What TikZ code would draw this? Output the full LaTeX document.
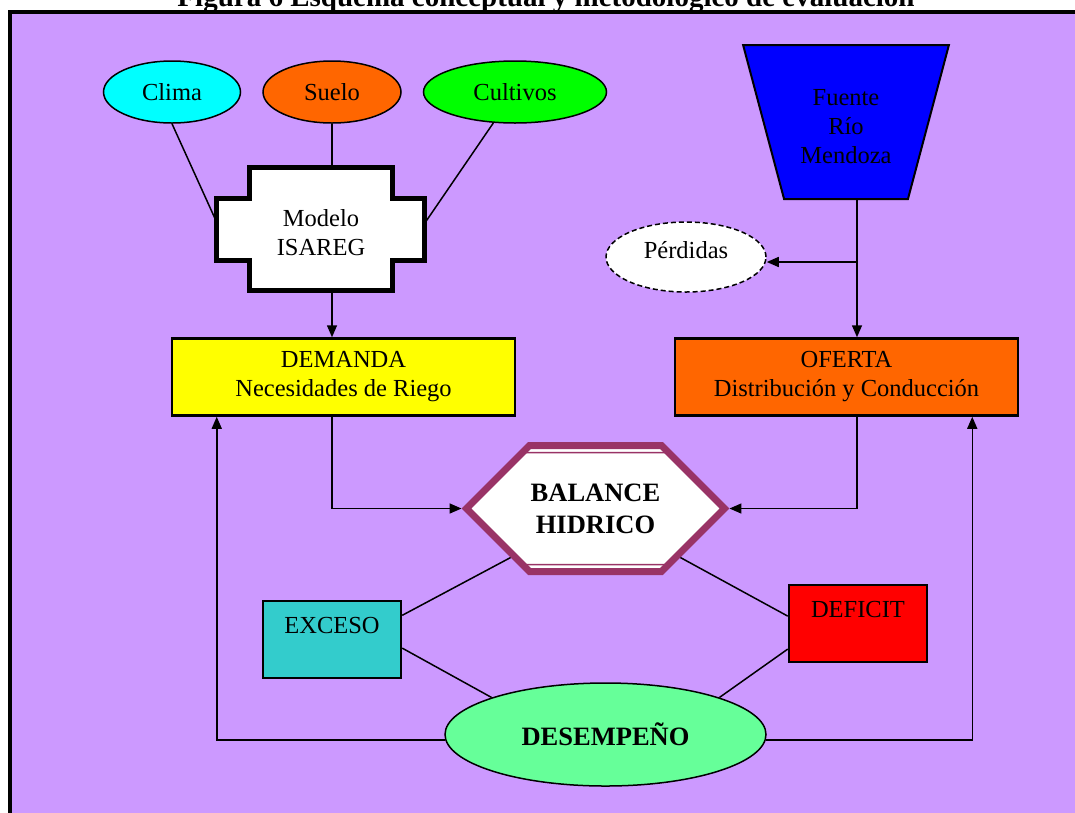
\documentclass[tikz,border=0pt]{standalone}
\usepackage{fontspec}
\setmainfont{Liberation Serif}
\usetikzlibrary{arrows.meta}
\usetikzlibrary{backgrounds}
\usetikzlibrary{shapes}
\definecolor{fondo}{HTML}{CC99FF}
\definecolor{cian}{HTML}{00FFFF}
\definecolor{naranja}{HTML}{FF6600}
\definecolor{verde}{HTML}{00FF00}
\definecolor{amarillo}{HTML}{FFFF00}
\definecolor{azul}{HTML}{0000FF}
\definecolor{ciruela}{HTML}{993366}
\definecolor{turquesa}{HTML}{33CCCC}
\definecolor{rojo}{HTML}{FF0000}
\definecolor{verdeclaro}{HTML}{66FF99}
\tikzset{
  > = {Triangle[length = 12pt, width = 10pt]},
  txt/.style = {font = \fontsize{24.5}{29}\selectfont,
                align = center,
                inner sep = 0pt},
  bold/.style = {font = \fontsize{26.5}{32}\selectfont\bfseries,
                 align = center},
  oval/.style = {ellipse,
                 draw,
                 txt,
                 line width = 1.5pt},
  box/.style = {rectangle,
                draw,
                txt,
                line width = 2.5pt,
                minimum width = 138,
                minimum height = 77},
  trap/.style = {trapezium,
                 draw,
                 line width = 2pt,
                 trapezium angle = 71.7,
                 trapezium stretches = true,
                 shape border rotate = 180,
                 minimum width = 206,
                 minimum height = 154},
  hexa/.style = {signal,
                 signal to = west and east,
                 signal pointer angle = 90,
                 draw = ciruela,
                 inner sep = 0pt},
  conn/.style = {line width = 1.5pt}
}
\begin{document}
\begin{tikzpicture}[x = 1pt, y = -1pt]
\useasboundingbox (0,0) rectangle (1075,812);

\begin{scope}[on background layer]
  \fill[fondo] (10,12) rectangle (1080,820);
\end{scope}
\draw[line width = 4pt] (10,820) -- (10,12) -- (1080,12);

\node[bold, font = \fontsize{29}{34}\selectfont\bfseries](title) at (546,6.5)[anchor = base]{Figura 6 Esquema conceptual y metodológico de evaluación};

% demanda
\node[oval, fill = cian, minimum width = 137, minimum height = 62](clima) at (172,92){Clima};
\node[oval, fill = naranja, minimum width = 138, minimum height = 62](suelo) at (332,92){Suelo};
\node[oval, fill = verde, minimum width = 183, minimum height = 62](cultivos) at (515,92){Cultivos};

\node[txt, minimum width = 208, minimum height = 123, label = {[txt, yshift = -3pt]center:Modelo\\ISAREG}](isareg) at (321,229.5){};
\begin{scope}[on background layer]
  \draw[line width = 5pt, fill = white]
    ([xshift = 33pt]isareg.north west) -- ++(143,0) -- ++(0,31) -- ++(32,0)
    -- ++(0,62) -- ++(-32,0) -- ++(0,30) -- ++(-143,0) -- ++(0,-30)
    -- ++(-33,0) -- ++(0,-62) -- ++(33,0) -- cycle;
\end{scope}

\node[box, fill = amarillo, minimum width = 343](dem) at (343.5,377){DEMANDA\\Necesidades de Riego};

% oferta
\node[trap, fill = azul, label = {[txt, yshift = -5pt]center:Fuente\\Río\\Mendoza}](fuente) at (846,122){};
\node[oval, dash pattern = on 5pt off 3pt, fill = white, minimum width = 160, minimum height = 70, label = {[txt, yshift = 7pt]center:Pérdidas}](perd) at (686,257){};
\coordinate (branch) at (857,262);
\node[box, fill = naranja, minimum width = 343](ofe) at (846.5,377){OFERTA\\Distribución y Conducción};

% balance
\node[hexa, bold, fill = white, line width = 7pt, minimum width = 258, minimum height = 126](bal) at (595.5,508.5){BALANCE\\HIDRICO};
\node[hexa, line width = 1.5pt, minimum width = 252, minimum height = 112](bal-in) at (bal){};

\node[box, fill = turquesa](exc) at (332,639.5){EXCESO\\~};
\node[box, fill = rojo](def) at (858,623.5){DEFICIT\\~};
\node[oval, bold, fill = verdeclaro, minimum width = 321, minimum height = 103](des) at (605.5,734.5){DESEMPEÑO};

\draw[conn] (clima.south) -- ([yshift = 7pt]isareg.west);
\draw[conn] (suelo) -- (suelo |- isareg.north);
\draw[conn] (cultivos.-125) -- ([yshift = 7pt]isareg.east);
\draw[conn, ->] (isareg.south -| suelo) -- (dem.north -| suelo);

\draw[conn, ->] (fuente.south -| branch) -- (ofe.north -| branch);
\draw[conn, ->] (branch) -- (perd.east |- branch);

\draw[conn, ->] (dem.south -| suelo) |- (bal.west);
\draw[conn, ->] (ofe.south -| branch) |- (bal.east);

\draw[conn] (bal.210) -- (exc.19);
\draw[conn] (bal.-30) -- (def.174);
\draw[conn] (exc.-7) -- (des.162);
\draw[conn] (def.200) -- (des.18);

\draw[conn, ->] (des.182) -| ([xshift = 46pt]dem.south west);
\draw[conn, ->] (des.-2) -| ([xshift = -47pt]ofe.south east);

\end{tikzpicture}
\end{document}
